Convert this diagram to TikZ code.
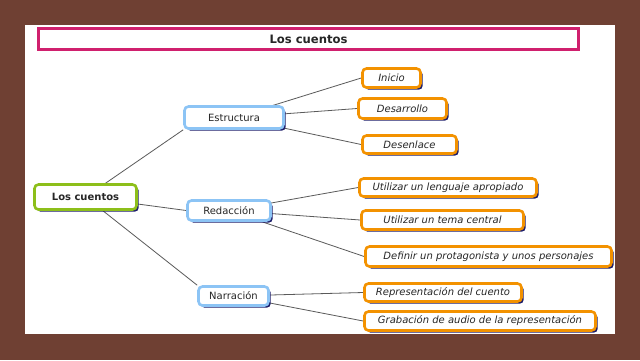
\documentclass[tikz,border=0pt]{standalone}
\usepackage{fontspec}
\setmainfont{DejaVu Sans}
\usetikzlibrary{shadows}
\pgfdeclarelayer{bglayer}
\pgfdeclarelayer{edgelayer}
\pgfsetlayers{bglayer,edgelayer,main}
\definecolor{bgbrown}{HTML}{6F4033}
\definecolor{magbar}{HTML}{D0206E}
\definecolor{orangeb}{HTML}{F39200}
\definecolor{blueb}{HTML}{8CC4F5}
\definecolor{greenb}{HTML}{8DBF1A}
\definecolor{shadownavy}{HTML}{1E1E6A}
\definecolor{edgegray}{HTML}{5A5A5A}
\tikzset{
  basebox/.style={rounded corners=4pt, fill=white, line width=2.6pt, inner sep=0pt,
    font=\fontsize{10}{12}\selectfont, text=black!85,
    drop shadow={shadow xshift=2.2pt, shadow yshift=-2.2pt, fill=shadownavy, opacity=1}},
  rootbox/.style={basebox, draw=greenb, font=\fontsize{10}{12}\selectfont\bfseries},
  midbox/.style={basebox, draw=blueb},
  leafbox/.style={basebox, draw=orangeb, font=\fontsize{10}{12}\selectfont\itshape},
  conn/.style={draw=edgegray, line width=0.8pt},
}
\begin{document}
\begin{tikzpicture}[x=1pt,y=-1pt]
\begin{pgfonlayer}{bglayer}
\fill[bgbrown] (0,0) rectangle (640,360);
\fill[white] (25,25) rectangle (615,334);
\end{pgfonlayer}
\useasboundingbox (0,0) rectangle (640,360);
\node[draw=magbar, line width=3pt, fill=white, minimum width=540pt, minimum height=21pt, inner sep=0pt,
  font=\fontsize{11.6}{13}\selectfont\bfseries, text=black!85] (title) at (308.5,39) {Los cuentos};

\node[rootbox, minimum width=102pt, minimum height=25pt] (lc) at (85.5,197) {Los cuentos};

\node[midbox, minimum width=99pt, minimum height=22pt] (est) at (234,117.5) {Estructura};
\node[midbox, minimum width=83pt, minimum height=20pt] (red) at (229,210.5) {Redacción};
\node[midbox, minimum width=70pt, minimum height=19pt] (nar) at (233.5,296) {Narración};

\node[leafbox, minimum width=58pt, minimum height=19pt] (ini) at (391.5,78) {Inicio};
\node[leafbox, minimum width=88pt, minimum height=20pt] (des) at (402.5,108.5) {Desarrollo};
\node[leafbox, minimum width=94pt, minimum height=18pt] (dsn) at (409.5,144.5) {Desenlace};

\node[leafbox, minimum width=177pt, minimum height=18pt] (u1) at (448,187.5) {Utilizar un lenguaje apropiado};
\node[leafbox, minimum width=162pt, minimum height=19pt] (u2) at (442.5,220) {Utilizar un tema central};
\node[leafbox, minimum width=246pt, minimum height=20pt] (def) at (488.5,256.5) {Definir un protagonista y unos personajes};

\node[leafbox, minimum width=157pt, minimum height=18pt] (rep) at (443,292.5) {Representación del cuento};
\node[leafbox, minimum width=231pt, minimum height=19pt] (gra) at (480,321) {Grabación de audio de la representación};

\begin{pgfonlayer}{edgelayer}
\path[conn] (lc.center) -- (est.south west);
\path[conn] (lc.center) -- (red.west);
\path[conn] (lc.center) -- (nar.north west);
\path[conn] (est.center) -- (ini.west);
\path[conn] (est.center) -- (des.west);
\path[conn] (est.center) -- (dsn.west);
\path[conn] (red.center) -- (u1.west);
\path[conn] (red.center) -- (u2.west);
\path[conn] (red.center) -- (def.west);
\path[conn] (nar.center) -- (rep.west);
\path[conn] (nar.center) -- (gra.west);
\end{pgfonlayer}
\end{tikzpicture}
\end{document}
